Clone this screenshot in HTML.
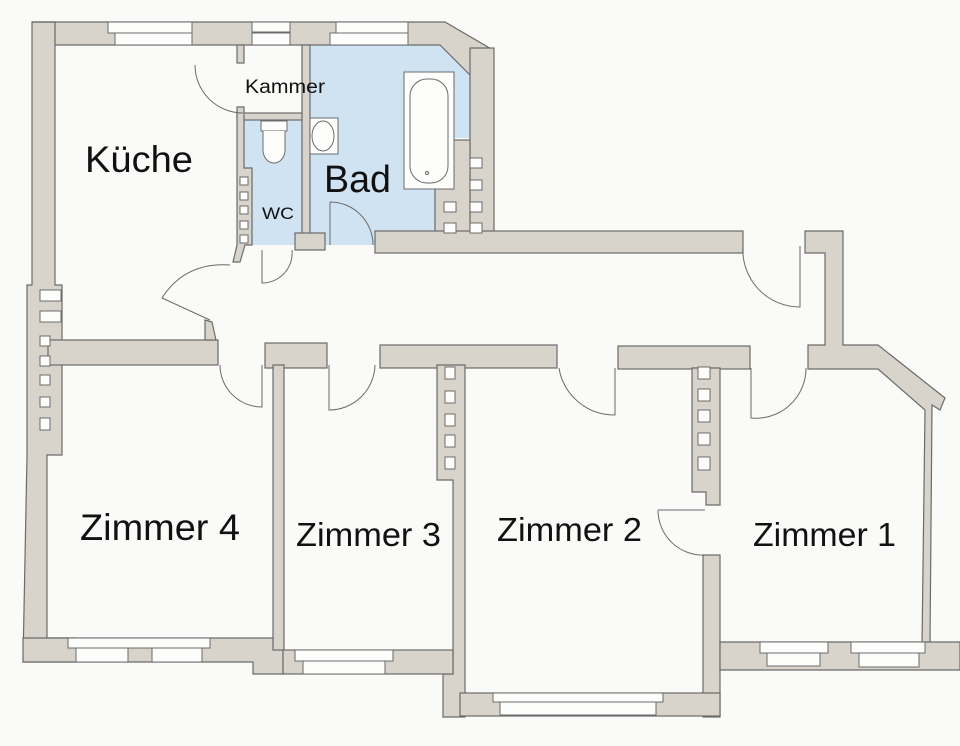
<!DOCTYPE html>
<html><head><meta charset="utf-8"><style>
html,body{margin:0;padding:0;background:#fafaf8;}
svg{display:block}
text{font-family:"Liberation Sans",sans-serif;fill:#111}
</style></head><body>
<svg width="960" height="746" viewBox="0 0 960 746" xmlns="http://www.w3.org/2000/svg">
<rect width="960" height="746" fill="#fafaf8"/>
<polygon points="244,120 302,120 302,245 244,245" fill="#cfe3f3"/>
<polygon points="310,45 440,45 472,75 472,138 435,138 435,235 375,235 375,245 310,245" fill="#cfe3f3"/>
<g fill="#d8d3cb" stroke="#6b6b6b" stroke-width="1.2">
<polygon points="32,22 55,22 55,285 62,285 62,455 47,455 47,638 75,638 75,662 23,662 27,455 27,285 32,285"/>
<rect x="48" y="340" width="170" height="25"/>
<polygon points="32,22 445,22 493,50 493,75 470,75 440,45 55,45 55,22"/>
<rect x="470" y="48" width="24" height="190"/>
<rect x="435" y="140" width="35" height="98"/>
<rect x="375" y="231" width="368" height="22"/>
<rect x="237" y="45" width="7" height="18"/>
<rect x="302" y="45" width="8" height="203"/>
<rect x="237" y="113" width="65" height="7"/>
<polygon points="237,107 244,107 244,168 252,168 252,245 245,245 240,262 233,262 237,245"/>
<rect x="295" y="233" width="30" height="17"/>
<polygon points="205,320 212,322 216,340 205,340"/>
<rect x="265" y="343" width="62" height="25"/>
<rect x="380" y="345" width="177" height="23"/>
<rect x="618" y="346" width="132" height="23"/>
<polygon points="805,231 843,231 843,345 878,345 945,398 940,410 932,405 930,645 922,645 925,410 878,369 808,369 808,345 825,345 825,253 805,253"/>
<rect x="273" y="365" width="11" height="290"/>
<polygon points="437,365 465,365 465,717 443,717 443,674 453,674 453,480 437,480"/>
<polygon points="692,368 720,368 720,505 706,505 706,492 692,492"/>
<rect x="703" y="555" width="17" height="162"/>
<polygon points="23,638 273,638 273,650 283,650 283,674 253,674 253,662 23,662"/>
<rect x="283" y="650" width="170" height="24"/>
<rect x="460" y="693" width="260" height="23"/>
<polygon points="720,642 960,642 960,670 720,670"/>
</g>
<g fill="#fdfdfc" stroke="#6b6b6b" stroke-width="1">
<rect x="108" y="22" width="84" height="11"/><rect x="115" y="33" width="77" height="12"/>
<rect x="252" y="22" width="38" height="10"/><rect x="252" y="33" width="38" height="12"/>
<rect x="336" y="22" width="72" height="11"/><rect x="330" y="33" width="78" height="12"/>
<rect x="68" y="638" width="142" height="10"/><rect x="76" y="648" width="52" height="14"/><rect x="152" y="648" width="50" height="14"/>
<rect x="295" y="650" width="98" height="11"/><rect x="303" y="661" width="82" height="13"/>
<rect x="493" y="693" width="170" height="9"/><rect x="500" y="702" width="156" height="13"/>
<rect x="760" y="642" width="68" height="11"/><rect x="767" y="653" width="53" height="13"/>
<rect x="851" y="642" width="74" height="11"/><rect x="859" y="653" width="60" height="14"/>
</g>
<g fill="#fdfdfc" stroke="#6b6b6b" stroke-width="1">
<rect x="40" y="290" width="21" height="11"/><rect x="40" y="311" width="21" height="11"/>
<rect x="40" y="336" width="10" height="10"/><rect x="40" y="356" width="10" height="10"/><rect x="40" y="375" width="10" height="10"/><rect x="40" y="397" width="10" height="10"/><rect x="40" y="418" width="10" height="12"/>
<rect x="240" y="177" width="8" height="8"/><rect x="240" y="192" width="8" height="8"/><rect x="240" y="206" width="8" height="8"/><rect x="240" y="221" width="8" height="8"/><rect x="240" y="235" width="8" height="8"/>
<rect x="470" y="158" width="12" height="10"/><rect x="470" y="180" width="12" height="10"/><rect x="444" y="202" width="12" height="10"/><rect x="470" y="202" width="12" height="10"/><rect x="444" y="223" width="12" height="10"/><rect x="470" y="223" width="12" height="10"/>
<rect x="445" y="367" width="10" height="12"/><rect x="445" y="391" width="10" height="12"/><rect x="445" y="414" width="10" height="12"/><rect x="445" y="435" width="10" height="12"/><rect x="445" y="457" width="10" height="12"/>
<rect x="698" y="367" width="12" height="12"/><rect x="698" y="389" width="12" height="12"/><rect x="698" y="410" width="12" height="12"/><rect x="698" y="433" width="12" height="12"/><rect x="698" y="457" width="12" height="13"/>
</g>
<g fill="none" stroke="#6b6b6b" stroke-width="1">
<rect x="404" y="72" width="50" height="117" fill="#fdfdfc"/>
<rect x="410" y="79" width="38" height="104" rx="17" fill="#fdfdfc"/>
<circle cx="427" cy="173" r="1.5"/>
<rect x="261" y="121" width="26" height="10" fill="#fdfdfc"/>
<path d="M263,131 L263,150 A11,13 0 0 0 285,150 L285,131" fill="#fdfdfc"/>
<rect x="310" y="118" width="28" height="36" fill="#fdfdfc"/>
<ellipse cx="323" cy="136" rx="11" ry="15"/>
<path d="M195,65 A48,48 0 0 0 243,113"/>
<path d="M330,202 L330,245 M330,202 A43,43 0 0 1 373,245"/>
<path d="M262,250 L262,283 A30,30 0 0 0 292,250"/>
<path d="M230,265 Q185,262 162,298 L210,320"/>
<path d="M220,365 A42,42 0 0 0 262,407 L262,365"/>
<path d="M329,365 L329,410 A46,46 0 0 0 375,365"/>
<path d="M559,368 A56,56 0 0 0 615,415 L615,368"/>
<path d="M751,368 L751,418 A50,50 0 0 0 806,368"/>
<path d="M743,246 A57,57 0 0 0 800,307 L800,246"/>
<path d="M658,510 L705,510 M658,510 A45,45 0 0 0 706,555"/>
</g>
<text x="85" y="172" font-size="37" textLength="108" lengthAdjust="spacingAndGlyphs">Küche</text>
<text x="245" y="93" font-size="19" textLength="80" lengthAdjust="spacingAndGlyphs">Kammer</text>
<text x="262" y="219" font-size="17" textLength="32" lengthAdjust="spacingAndGlyphs">WC</text>
<text x="324" y="192" font-size="38" textLength="67" lengthAdjust="spacingAndGlyphs">Bad</text>
<text x="80" y="540" font-size="37" textLength="160" lengthAdjust="spacingAndGlyphs">Zimmer 4</text>
<text x="296" y="546" font-size="33" textLength="145" lengthAdjust="spacingAndGlyphs">Zimmer 3</text>
<text x="497" y="541" font-size="33" textLength="145" lengthAdjust="spacingAndGlyphs">Zimmer 2</text>
<text x="753" y="546" font-size="33" textLength="143" lengthAdjust="spacingAndGlyphs">Zimmer 1</text>
</svg>
</body></html>
